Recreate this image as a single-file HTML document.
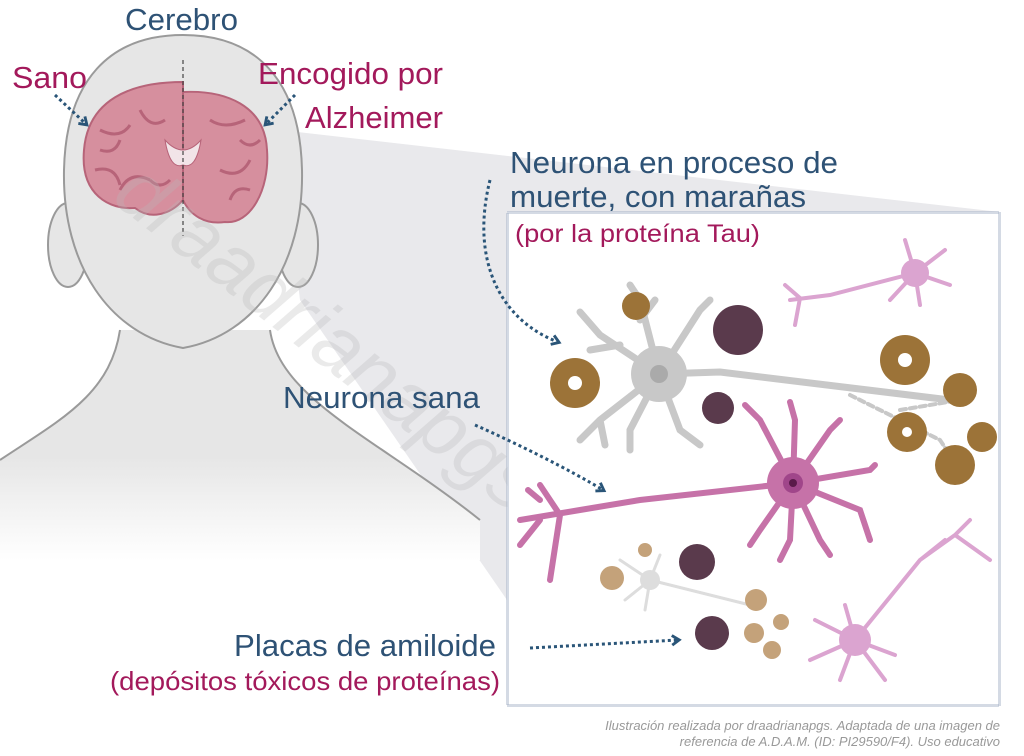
<!DOCTYPE html>
<html><head><meta charset="utf-8"><style>
html,body{margin:0;padding:0;background:#fff}
svg{display:block}
text{font-family:"Liberation Sans",sans-serif}
</style></head><body>
<svg width="1024" height="756" viewBox="0 0 1024 756" xmlns="http://www.w3.org/2000/svg">
<defs>
<linearGradient id="bodyfade" x1="0" y1="0" x2="0" y2="1">
<stop offset="0.55" stop-color="#e6e6e6"/><stop offset="1" stop-color="#fff"/>
</linearGradient>
<marker id="ah" viewBox="0 0 10 10" refX="6" refY="5" markerWidth="4" markerHeight="4" orient="auto"><path d="M1,1 L7,5 L1,9" fill="none" stroke="#2a5578" stroke-width="2.4"/></marker>
</defs>
<polygon points="280,130 1000,212 507,212 507,600 300,300" fill="#e9e9ec"/>
<path d="M0,460 C60,420 110,395 120,330 L270,330 C280,400 380,440 480,520 L480,560 L0,560 Z" fill="url(#bodyfade)"/>
<path d="M0,460 C60,420 110,395 120,330" fill="none" stroke="#9a9a9a" stroke-width="2"/>
<path d="M270,330 C280,400 380,440 480,520" fill="none" stroke="#9a9a9a" stroke-width="2"/>
<ellipse cx="68" cy="245" rx="20" ry="42" fill="#e6e6e6" stroke="#9a9a9a" stroke-width="2"/>
<ellipse cx="298" cy="245" rx="20" ry="42" fill="#e6e6e6" stroke="#9a9a9a" stroke-width="2"/>
<path d="M183,35 C110,35 66,80 64,170 C62,265 110,335 183,348 C256,335 304,265 302,170 C300,80 256,35 183,35 Z" fill="#e6e6e6" stroke="#9a9a9a" stroke-width="2"/>
<path d="M183,82 C130,82 88,100 84,150 C80,195 110,210 135,208 C150,220 170,215 183,200 Z" fill="#d68f9e" stroke="#b76479" stroke-width="2"/>
<path d="M183,92 C225,90 265,105 267,150 C270,190 250,225 225,222 C205,225 190,215 183,200 Z" fill="#d68f9e" stroke="#b76479" stroke-width="2"/>
<path d="M100,130 q20,10 30,-5 M95,170 q20,-5 25,15 M140,110 q10,20 25,10 M210,120 q15,10 35,0 M220,170 q20,10 30,-10 M230,200 q5,-15 20,-10 M120,190 q10,-20 30,-10 M100,150 q15,5 20,-10 M150,180 q10,10 20,0 M240,140 q10,10 20,0" stroke="#b76479" stroke-width="3" fill="none"/>
<path d="M165,140 q18,20 36,0 q-5,30 -18,25 q-13,5 -18,-25Z" fill="#f2e4e8" stroke="#b76479"/>
<line x1="183" y1="60" x2="183" y2="236" stroke="#444" stroke-width="1.2" stroke-dasharray="4,3"/>
<text x="110" y="200" font-size="80" fill="#bbb" fill-opacity="0.3" transform="rotate(38 110 200)" font-style="italic">draadrianapgs</text>
<rect x="507.5" y="212.5" width="492" height="493" fill="#fff" stroke="#a8b4c8" stroke-width="3" stroke-dasharray="1,1"/>
<g fill="none" stroke-linecap="round">
<g stroke="#c8c8c8" stroke-width="7">
<path d="M659,374 L600,335 L580,312 M620,345 L590,350 M659,374 L640,300 L630,285 M640,320 L655,300 M659,374 L700,310 L710,300 M659,374 L600,420 L580,440 M600,420 L605,445 M659,374 L630,430 L630,450 M659,374 L680,430 L700,445 M659,374 L720,372 L950,400"/>
<path d="M850,395 L940,440 L960,470 M900,410 L960,400" stroke-width="4" stroke-dasharray="6,4"/>
</g>
<circle cx="659" cy="374" r="28" fill="#c8c8c8"/>
<circle cx="659" cy="374" r="9" fill="#aaa"/>
<g stroke="#ddd" stroke-width="3"><path d="M650,580 L620,560 M650,580 L625,600 M650,580 L660,555 M650,580 L645,610 M650,580 L750,605"/></g>
<circle cx="650" cy="580" r="10" fill="#ddd"/>
<g stroke="#c672a8" stroke-width="6">
<path d="M793,483 L640,500 L580,510 L520,520 M560,515 L540,485 M540,500 L528,490 M560,515 L550,580 M540,520 L520,545 M793,483 L760,420 L745,405 M793,483 L795,420 L790,402 M793,483 L830,430 L840,420 M793,483 L870,470 L875,465 M793,483 L860,510 L870,540 M793,483 L790,540 L780,560 M793,483 L760,530 L750,545 M793,483 L820,540 L830,555"/>
</g>
<circle cx="793" cy="483" r="26" fill="#c672a8"/>
<circle cx="793" cy="483" r="10" fill="#a0468a"/><circle cx="793" cy="483" r="4" fill="#5a1a4a"/>
<g stroke="#dba4d0" stroke-width="4"><path d="M915,273 L830,295 L790,300 M800,298 L785,285 M800,298 L795,325 M915,273 L905,240 M915,273 L945,250 M915,273 L950,285 M915,273 L920,305 M915,273 L890,300"/></g>
<circle cx="915" cy="273" r="14" fill="#dba4d0"/>
<g stroke="#dba4d0" stroke-width="4"><path d="M855,640 L920,560 L955,535 L970,520 M955,535 L990,560 M920,560 L945,540 M855,640 L815,620 M855,640 L810,660 M855,640 L840,680 M855,640 L885,680 M855,640 L895,655 M855,640 L845,605"/></g>
<circle cx="855" cy="640" r="16" fill="#dba4d0"/>
</g>
<g fill="#9c7338">
<circle cx="575" cy="383" r="25"/><circle cx="636" cy="306" r="14"/><circle cx="905" cy="360" r="25"/><circle cx="960" cy="390" r="17"/>
<circle cx="907" cy="432" r="20"/><circle cx="982" cy="437" r="15"/><circle cx="955" cy="465" r="20"/>
<circle cx="612" cy="578" r="12" fill="#c4a27a"/><circle cx="645" cy="550" r="7" fill="#c4a27a"/><circle cx="756" cy="600" r="11" fill="#c4a27a"/>
<circle cx="781" cy="622" r="8" fill="#c4a27a"/><circle cx="754" cy="633" r="10" fill="#c4a27a"/><circle cx="772" cy="650" r="9" fill="#c4a27a"/>
</g>
<g fill="#fff"><circle cx="575" cy="383" r="7"/><circle cx="905" cy="360" r="7"/><circle cx="907" cy="432" r="5"/></g>
<g fill="#5a3a4c"><circle cx="738" cy="330" r="25"/><circle cx="718" cy="408" r="16"/><circle cx="697" cy="562" r="18"/><circle cx="712" cy="633" r="17"/></g>
<g fill="none" stroke="#2a5578" stroke-width="3" stroke-dasharray="3,3" marker-end="url(#ah)">
<path d="M490,180 C470,260 500,320 558,342"/>
<path d="M475,425 C520,445 570,470 603,490"/>
<path d="M530,648 L678,640"/>
<path d="M55,95 L86,124"/>
<path d="M295,95 L266,124"/>
</g>
<g font-size="31">
<text x="125" y="30" fill="#2e5275" textLength="113" lengthAdjust="spacingAndGlyphs">Cerebro</text>
<text x="12" y="88" fill="#a3195b" textLength="75" lengthAdjust="spacingAndGlyphs">Sano</text>
<text x="258" y="84" fill="#a3195b" textLength="185" lengthAdjust="spacingAndGlyphs">Encogido por</text>
<text x="305" y="128" fill="#a3195b" textLength="138" lengthAdjust="spacingAndGlyphs">Alzheimer</text>
<text x="510" y="173" fill="#2e5275" textLength="328" lengthAdjust="spacingAndGlyphs">Neurona en proceso de</text>
<text x="510" y="207" fill="#2e5275" textLength="296" lengthAdjust="spacingAndGlyphs">muerte, con marañas</text>
<text x="283" y="408" fill="#2e5275" textLength="197" lengthAdjust="spacingAndGlyphs">Neurona sana</text>
<text x="234" y="656" fill="#2e5275" textLength="262" lengthAdjust="spacingAndGlyphs">Placas de amiloide</text>
</g>
<text x="515" y="242" fill="#a3195b" font-size="25" textLength="245" lengthAdjust="spacingAndGlyphs">(por la proteína Tau)</text>
<text x="110" y="690" fill="#a3195b" font-size="26" textLength="390" lengthAdjust="spacingAndGlyphs">(depósitos tóxicos de proteínas)</text>
<g font-size="13" fill="#999" font-style="italic" text-anchor="end">
<text x="1000" y="730">Ilustración realizada por draadrianapgs. Adaptada de una imagen de</text>
<text x="1000" y="746">referencia de A.D.A.M. (ID: PI29590/F4). Uso educativo</text>
</g>
</svg>
</body></html>
